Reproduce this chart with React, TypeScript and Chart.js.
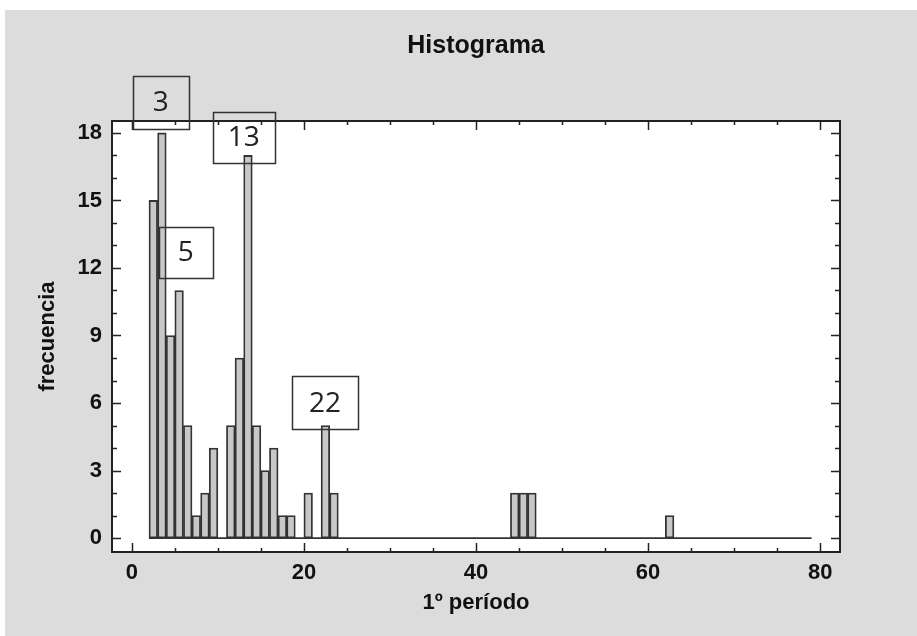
import React, { useEffect, useRef } from "react";
import { Chart, registerables } from "chart.js";

Chart.register(...registerables);

// ---- data ----
const binStarts = [2, 3, 4, 5, 6, 7, 8, 9, 11, 12, 13, 14, 15, 16, 17, 18, 20, 22, 23, 44, 45, 46, 62];
const frequencies = [15, 18, 9, 11, 5, 1, 2, 4, 5, 8, 17, 5, 3, 4, 1, 1, 2, 5, 2, 2, 2, 2, 1];
const binWidth = 1;
const histogramRange = [2, 79];

const xTickValues = [0, 20, 40, 60, 80];
const yTickValues = [0, 3, 6, 9, 12, 15, 18];

const annotationLabels = ["3", "13", "5", "22"];
const annotationX = [3.37, 13.02, 6.28, 22.44];
const annotationBottomY = [18.18, 16.67, 11.56, 4.84];

// ---- styles ----
const annotationBoxW = [56, 62, 54, 66];
const annotationBoxH = [53, 51, 51, 53];
const BG_GRAY = "rgb(220,220,220)";
const TEXT = "#111";
const FONT = "'Liberation Sans', Arial, sans-serif";

const framePlugin = {
  id: "frame",
  beforeDraw(chart: any) {
    const { ctx, width, height } = chart;
    ctx.save();
    ctx.fillStyle = "#fff";
    ctx.fillRect(0, 0, width, height);
    ctx.fillStyle = BG_GRAY;
    ctx.fillRect(5, 10, width - 5, height - 10);
    const a = chart.chartArea;
    ctx.fillStyle = "#fff";
    ctx.fillRect(a.left, a.top, a.right - a.left, a.bottom - a.top);
    ctx.restore();
  },
  afterDraw(chart: any) {
    const { ctx } = chart;
    const a = chart.chartArea;
    const xs = chart.scales.x;
    const ys = chart.scales.y;
    ctx.save();
    ctx.strokeStyle = "#222";
    ctx.lineWidth = 1.5;
    // x ticks
    ctx.beginPath();
    for (let v = Math.ceil(xs.min / 5) * 5; v <= xs.max; v += 5) {
      const px = Math.round(xs.getPixelForValue(v)) + 0.5;
      const len = xTickValues.includes(v) ? 9 : 4;
      ctx.moveTo(px, a.bottom);
      ctx.lineTo(px, a.bottom - len);
      ctx.moveTo(px, a.top);
      ctx.lineTo(px, a.top + len);
    }
    // y ticks
    for (let v = Math.ceil(ys.min); v <= ys.max; v += 1) {
      const py = Math.round(ys.getPixelForValue(v)) + 0.5;
      const len = yTickValues.includes(v) ? 9 : 5;
      ctx.moveTo(a.left, py);
      ctx.lineTo(a.left + len, py);
      ctx.moveTo(a.right, py);
      ctx.lineTo(a.right - len, py);
    }
    ctx.stroke();
    // plot border
    ctx.lineWidth = 2;
    ctx.strokeRect(a.left, a.top, a.right - a.left, a.bottom - a.top);

    // annotation boxes
    ctx.lineWidth = 1.5;
    ctx.strokeStyle = "#333";
    ctx.fillStyle = "#222";
    ctx.font = "28px 'Open Sans', 'Noto Sans', sans-serif";
    ctx.textAlign = "center";
    ctx.textBaseline = "middle";
    annotationLabels.forEach((lab, i) => {
      const cx = xs.getPixelForValue(annotationX[i]);
      const bottom = ys.getPixelForValue(annotationBottomY[i]);
      const w = annotationBoxW[i];
      const h = annotationBoxH[i];
      ctx.strokeRect(Math.round(cx - w / 2) + 0.5, Math.round(bottom - h) + 0.5, w, h);
      ctx.fillText(lab, cx, bottom - h / 2 + 1);
    });
    ctx.restore();
  },
};

export default function App() {
  const ref = useRef<HTMLCanvasElement | null>(null);
  useEffect(() => {
    if (!ref.current) return;
    const chart = new Chart(ref.current, {
      type: "bar",
      data: {
        datasets: [
          {
            type: "bar",
            label: "frecuencia",
            data: binStarts.map((b, i) => ({ x: b + binWidth / 2, y: frequencies[i] })),
            backgroundColor: "#c8c8c8",
            borderColor: "#333",
            borderWidth: 1.8,
            borderSkipped: false,
            barPercentage: 1,
            categoryPercentage: 1,
            order: 2,
          } as any,
          {
            type: "line",
            label: "base",
            data: [
              { x: histogramRange[0], y: 0 },
              { x: histogramRange[1], y: 0 },
            ],
            borderColor: "#333",
            borderWidth: 1.8,
            pointRadius: 0,
            order: 1,
          } as any,
        ],
      },
      options: {
        animation: false,
        responsive: false,
        layout: { padding: { left: 0, right: 77, top: 0, bottom: 0 } },
        plugins: {
          legend: { display: false },
          tooltip: { enabled: false },
          title: {
            display: true,
            text: "Histograma",
            fullSize: false,
            color: TEXT,
            font: { family: FONT, size: 25, weight: "bold", lineHeight: 1.2 },
            padding: { top: 31, bottom: 60 },
          },
        },
        scales: {
          x: {
            type: "linear",
            min: -2.3,
            max: 82.3,
            offset: false,
            grid: { display: false, drawTicks: false },
            border: { display: false },
            afterFit(scale: any) {
              scale.height = 84;
            },
            afterBuildTicks(scale: any) {
              scale.ticks = xTickValues.map((v) => ({ value: v }));
            },
            ticks: {
              color: TEXT,
              padding: 8,
              maxRotation: 0,
              autoSkip: false,
              font: { family: FONT, size: 22, weight: "bold" },
            },
            title: {
              display: true,
              text: "1º período",
              color: TEXT,
              font: { family: FONT, size: 22, weight: "bold", lineHeight: 1.2 },
              padding: { top: 0, bottom: 20 },
            },
          },
          y: {
            type: "linear",
            min: -0.62,
            max: 18.53,
            grid: { display: false, drawTicks: false },
            border: { display: false },
            afterFit(scale: any) {
              scale.width = 112;
            },
            afterBuildTicks(scale: any) {
              scale.ticks = yTickValues.map((v) => ({ value: v }));
            },
            ticks: {
              color: TEXT,
              padding: 10,
              autoSkip: false,
              font: { family: FONT, size: 22, weight: "bold" },
            },
            title: {
              display: true,
              text: "frecuencia",
              color: TEXT,
              font: { family: FONT, size: 22, weight: "bold", lineHeight: 1.2 },
              padding: { top: 35, bottom: 0 },
            },
          },
        },
      },
      plugins: [framePlugin],
    });
    return () => chart.destroy();
  }, []);

  return (
    <div style={{ position: "absolute", left: 0, top: 0, width: 917, height: 636 }}>
      <canvas ref={ref} width={917} height={636} style={{ width: 917, height: 636, display: "block" }} />
    </div>
  );
}
